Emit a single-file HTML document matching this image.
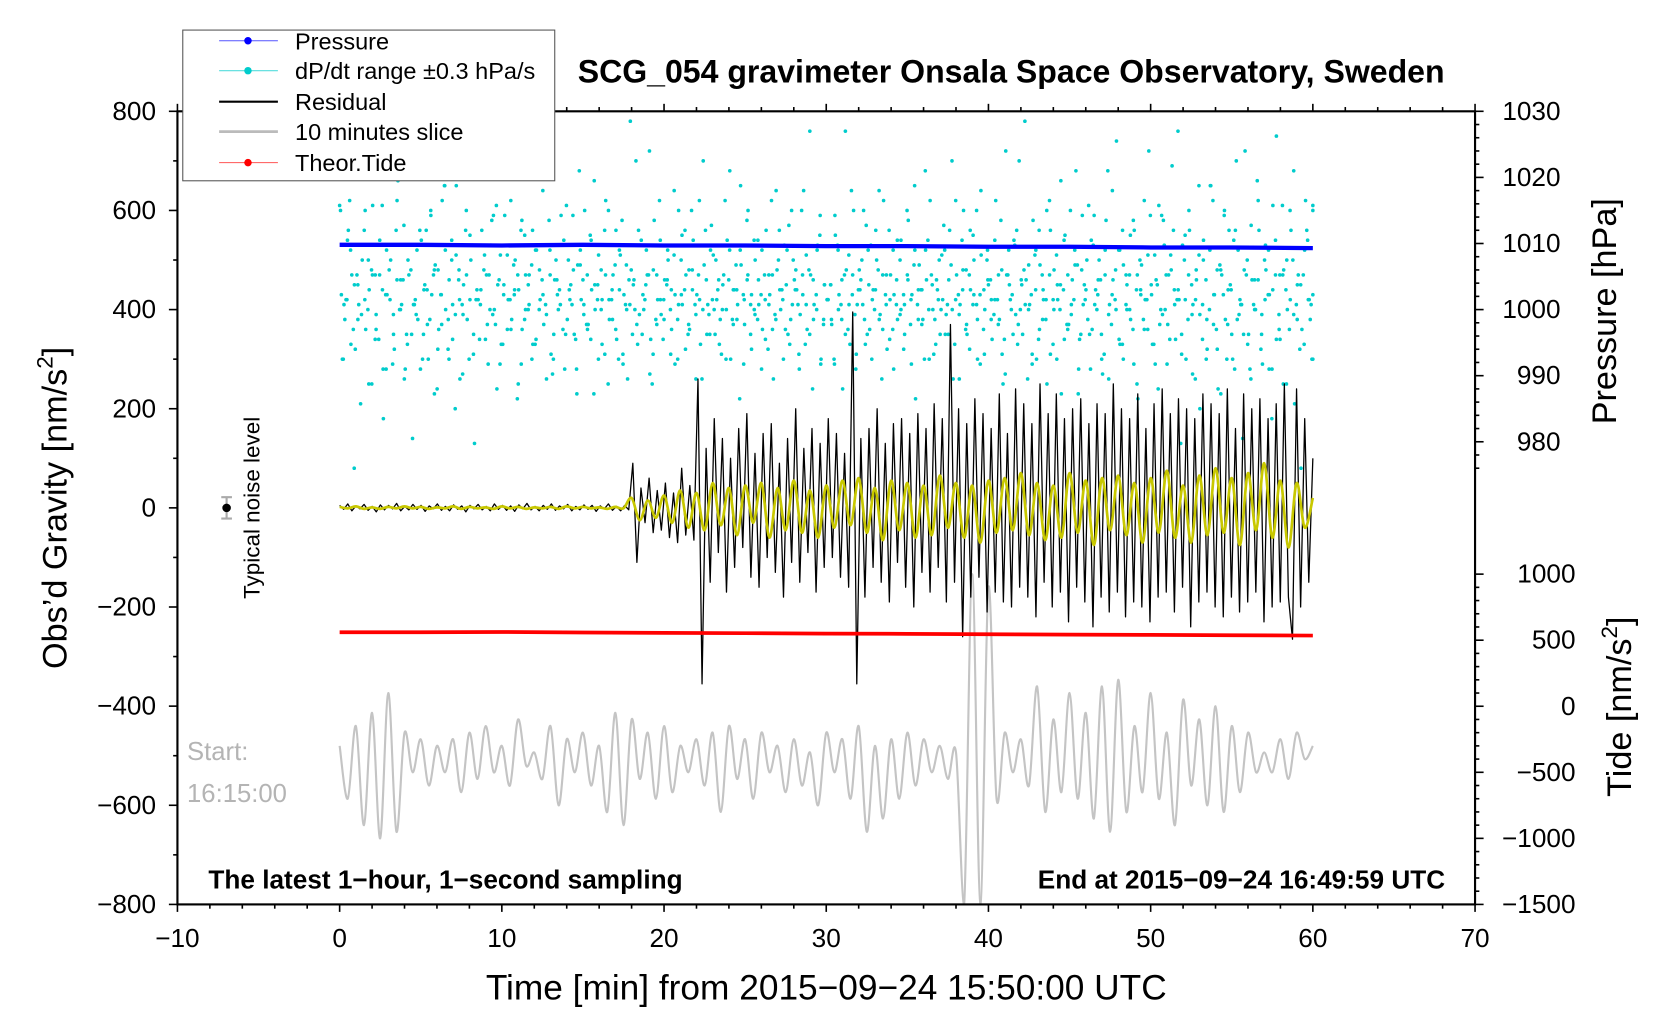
<!DOCTYPE html>
<html><head><meta charset="utf-8"><style>
html,body{margin:0;padding:0;background:#fff;width:1676px;height:1020px;overflow:hidden}
svg{display:block;font-family:"Liberation Sans",sans-serif}
</style></head><body>
<svg id="chart" width="1676" height="1020" viewBox="0 0 1568 952" xmlns="http://www.w3.org/2000/svg">
<g id="marks"></g>
<g id="axes"></g>
<text x="946" y="76" text-anchor="middle" font-size="30" font-weight="bold">SCG_054 gravimeter Onsala Space Observatory, Sweden</text>
<text transform="translate(62,474) rotate(-90)" text-anchor="middle" font-size="32">Obs’d Gravity [nm/s<tspan font-size="21" dy="-13">2</tspan><tspan dy="13">]</tspan></text>
<text transform="translate(1512,290) rotate(-90)" text-anchor="middle" font-size="32">Pressure [hPa]</text>
<text transform="translate(1526,660) rotate(-90)" text-anchor="middle" font-size="32">Tide [nm/s<tspan font-size="21" dy="-13">2</tspan><tspan dy="13">]</tspan></text>
<text x="773" y="934" text-anchor="middle" font-size="33">Time [min] from 2015−09−24 15:50:00 UTC</text>
<text x="195" y="830" font-size="24.5" font-weight="bold">The latest 1−hour, 1−second sampling</text>
<text x="1352" y="830" text-anchor="end" font-size="24.5" font-weight="bold">End at 2015−09−24 16:49:59 UTC</text>
<text x="175" y="710" font-size="24" fill="#b4b4b4">Start:</text>
<text x="175" y="749" font-size="24" fill="#b4b4b4">16:15:00</text>
<text transform="translate(243,474) rotate(-90)" text-anchor="middle" font-size="21">Typical noise level</text>
<g>
<line x1="212" y1="464" x2="212" y2="484" stroke="#aaa" stroke-width="2"/><line x1="207" y1="464" x2="217" y2="464" stroke="#aaa" stroke-width="2"/><line x1="207" y1="484" x2="217" y2="484" stroke="#aaa" stroke-width="2"/><circle cx="212" cy="474" r="4" fill="#000"/></g>
<g>
<rect x="171" y="27" width="348" height="141" fill="#fff" stroke="#555" stroke-width="1"/>
<g><line x1="205" y1="37" x2="260" y2="37" stroke="#55f" stroke-width="1"/><circle cx="232" cy="37" r="3.5" fill="#00f"/><text x="276" y="45" font-size="22">Pressure</text></g>
<g><line x1="205" y1="65" x2="260" y2="65" stroke="#5dd" stroke-width="1"/><circle cx="232" cy="65" r="3.5" fill="#0cc"/><text x="276" y="73" font-size="22">dP/dt range ±0.3 hPa/s</text></g>
<g><line x1="205" y1="94" x2="260" y2="94" stroke="#000" stroke-width="2"/><text x="276" y="102" font-size="22">Residual</text></g>
<g><line x1="205" y1="122" x2="260" y2="122" stroke="#bbb" stroke-width="2.5"/><text x="276" y="130" font-size="22">10 minutes slice</text></g>
<g><line x1="205" y1="151" x2="260" y2="151" stroke="#f55" stroke-width="1"/><circle cx="232" cy="151" r="3.5" fill="#f00"/><text x="276" y="159" font-size="22">Theor.Tide</text></g>
</g>
</svg>
<script>
const xTicks=[-10,0,10,20,30,40,50,60,70];
const gTicks=[800,600,400,200,0,-200,-400,-600,-800];
const pTicks=[1030,1020,1010,1000,990,980];
const tTicks=[1000,500,0,-500,-1000,-1500];
const pressure=[1009.8,1009.8,1009.7,1009.8,1009.7,1009.7,1009.6,1009.6,1009.5,1009.5,1009.4,1009.4,1009.3];
const tide=[560,560,562,558,555,553,550,548,545,542,540,537,535];
const residual=[5,-3,8,-6,4,-2,7,-5,3,-8,6,-4,5,-2,9,-6,3,-4,7,-3,5,-7,4,-2,8,-5,3,-6,6,-3,4,-8,5,-2,7,-4,3,-6,8,-3,5,-5,4,-7,6,-2,9,-4,3,-6,5,-3,8,-5,4,-2,7,-6,3,-4,6,-3,5,-7,4,-2,8,-5,3,-6,5,-4,
90,-110,40,-30,60,-50,35,-45,50,-60,30,-70,80,-55,45,-65,
260,-355,120,-150,180,-90,140,-170,100,-120,160,-80,190,-140,110,-160,150,-100,170,-130,90,-180,140,-110,200,-150,120,-90,160,-170,130,-120,180,-100,150,-140,110,-160,
395,-355,140,-180,160,-120,200,-150,130,-190,170,-110,180,-160,150,-200,190,-130,160,-170,210,-120,180,-190,370,
-150,200,-260,170,-180,220,-140,190,-210,160,-170,230,-190,150,-200,240,-160,210,-180,170,-220,250,-150,190,-200,230,-170,180,-230,200,-160,220,-190,170,-240,210,-180,190,-210,250,-170,200,-220,180,-190,230,-200,160,-230,210,-180,240,-170,190,-210,220,-160,200,-240,180,-190,230,-170,210,-200,190,-220,240,-180,160,-210,230,-190,200,-170,220,-230,180,-200,210,-190,250,-180,
-265,240,-200,180,-150,100];
const smoothed=[2,-1,3,-2,1,-2,2,-1,3,-1,2,-2,1,-1,3,-2,2,-1,1,-2,3,-1,2,-2,1,-1,2,-2,3,-1,2,-1,1,-2,2,-1,
20,-25,15,-20,25,-30,35,-40,30,-45,50,-35,40,-55,45,-30,50,-60,40,-45,55,-50,35,-60,45,-40,55,-35,60,-50,40,-65,55,-45,50,-60,45,-55,65,-40,50,-60,45,-70,55,-50,60,-45,70,-55,50,-65,45,-60,70,-50,55,-75,60,-45,65,-55,50,-70,60,-50,75,-60,45,-70,65,-55,80,-50,60,-75,70,-45,90,-60,55,-80,50,-40,20];
const slice=[-300,-700,-150,-900,-50,-1000,100,-950,-200,-500,-250,-600,-300,-500,-250,-650,-200,-550,-150,-500,-300,-600,-100,-450,-350,-550,-150,-750,-250,-500,-200,-600,-300,-800,-50,-900,-100,-550,-200,-700,-150,-650,-300,-500,-250,-600,-200,-800,-150,-550,-250,-700,-200,-500,-300,-650,-250,-600,-350,-750,-200,-500,-250,-700,-150,-950,-300,-850,-250,-700,-200,-600,-250,-500,-300,-550,-350,-1500,1000,-1500,900,-700,-200,-500,-250,-600,150,-800,-100,-650,100,-700,-50,-850,150,-950,200,-800,-150,-650,100,-700,-200,-900,50,-600,-100,-750,0,-800,-150,-650,-200,-500,-350,-500,-250,-550,-200,-400,-300];
const dpdt=[610,300,420,520,80,450,390,600,250,470,360,540,180,430,500,320,660,410,280,470,140,390,560,350,440,600,230,480,370,520,300,410,650,260,450,380,500,130,420,560,340,470,390,610,290,430,510,360,440,250,580,400,470,330,520,420,370,680,310,460,400,530,350,440,590,280,490,410,360,540,450,300,420,620,380,470,340,510,430,260,480,400,560,350,450,720,310,470,420,380,520,440,290,600,410,470,360,540,430,330,490,410,570,350,460,400,300,520,440,380,650,420,470,320,500,410,360,560,430,260,480,400,530,350,600,440,310,470,410,760,380,520,290,450,420,370,550,430,240,480,330,600,410,460,380,520,300,440,640,360,470,420,280,540,400,350,580,430,220,490,380,460,620,310,440,400,520,350,700,420,260,480,370,560,430,300,510,400,450,340,620,380,250,470,420,540,330,460,780,400,290,520,360,440,600,310,480,420,230,550,370,460,680,340,410,500,280,590,430,350,470,260,640,400,520,300,450,380,560,220,490,420,720,330,460,370,580,290,510,440,760,350,420,600,270,480,390,540,320,650,430,240,470,380,560,300,700,420,350,500,260,460,620,390,530,280,440,750,340,480,400,560,210,470,360,620,420,300];
const dpdt2=[430,380,560,470,320,410,500,360,440,610,390,470,280,520,420,350,460,400,570,330,480,410,380,540,450,300,430,490,360,620,400,460,340,510,420,390,470,550,310,440,410,480,370,530,400,450,330,590,420,380,500,440,360,470,410,560,340,480,430,390,520,300,460,410,540,380,450,350,490,420,600,370,440,400,510,330,470,420,380,560,440,310,490,410,450,370,530,400,470,340,580,420,390,460,500,360,430,410,550,320,480,440,390,620,400,460,350,510,420,380,470,540,300,440,410,490,370,600,430,390,460,520,340,410,470,380,560,420,450,330,500,440,390,640,360,470,410,530,300,450,420,380,590,400,460,350,510,430,280,480,410,570,360,440,500,390,620,320,470,430,380,540,410,460,290,520,440,370,680,400,450,330,500,420,390,560,260,470,410,600,350,440,500,380,640,310,460,420,540,370,480,270,520,430,390,700,350,460,410,580,300,490,420,250,560,400,450,660,340,470,390,520,230,480,420,610,360,440,500,270,580,410,460,740,330,490,400,550,290,470,430,620,360,450,510,240,590,400,470,690,340,420,530,300,560,410,460,200,500,380,650,430,320,480,590,370,440,280,520,410,720,350,460,400,560,290,480,430,610,340,470,250,500,420,680,380,450,330,540,410,600];
const X0=166,X1=1380,YT=103,YB=845;
const sx=m=>X0+(m+10)*(X1-X0)/80;
const sg=v=>YT+(800-v)*(YB-YT)/1600;
const sp=v=>YT+(1030-v)*(YB-YT)/120;
const st=v=>YB-(v+1500)*(YB-536)/2500;
const NS='http://www.w3.org/2000/svg';
const marks=document.getElementById('marks'),axes=document.getElementById('axes');
function mk(tag,attrs,parent){const e=document.createElementNS(NS,tag);for(const k in attrs)e.setAttribute(k,attrs[k]);parent.appendChild(e);return e;}
function clipY(y){return Math.max(YT,Math.min(YB,y));}
const dg=mk('g',{},marks);


function dots(arr,off){arr.forEach((v,i)=>{const c=mk('circle',{cx:sx(Math.min(60,(i+off)*60/(arr.length-1))),cy:sg(v),r:1.7,fill:'#0cc'},dg);

});}
dots(dpdt,0);dots(dpdt2,0.5);dots(dpdt2.slice().reverse(),0.25);dots(dpdt.slice().reverse(),0.75);
function line(arr,scale,name,stroke,w,smooth){
 const n=arr.length;const pts=arr.map((v,i)=>[sx(i*60/(n-1)),clipY(scale(v))]);
 let d='M'+pts[0][0]+','+pts[0][1];
 if(smooth){for(let i=0;i<n-1;i++){const p0=pts[Math.max(0,i-1)],p1=pts[i],p2=pts[i+1],p3=pts[Math.min(n-1,i+2)];
  const c1=[p1[0]+(p2[0]-p0[0])/6,clipY(p1[1]+(p2[1]-p0[1])/6)],c2=[p2[0]-(p3[0]-p1[0])/6,clipY(p2[1]-(p3[1]-p1[1])/6)];
  d+=' C'+c1+' '+c2+' '+p2;}}
 else pts.slice(1).forEach(p=>d+=' L'+p[0]+','+p[1]);
 const e=mk('path',{d:d,fill:'none',stroke:stroke,'stroke-width':w,'stroke-linejoin':'round'},marks);
 
 
 return e;}
line(slice,st,'slice-line','#c4c4c4',2,true);
line(residual,sg,'residual-line','#000',1.2,false);
line(smoothed,sg,'smoothed-residual-line','#c8c800',2.5,true);
line(pressure,sp,'pressure-line','#00f',4,false);
line(tide,st,'tide-line','#f00',3.5,false);
const fr=mk('rect',{x:X0,y:YT,width:X1-X0,height:YB-YT,fill:'none',stroke:'#000','stroke-width':2},axes);


function tx(x,y,s,anchor,name){const t=mk('text',{x:x,y:y,'text-anchor':anchor,'font-size':24.5},axes);t.textContent=s;
 
 }
const minus=s=>String(s).replace('-','−');
for(let m=-10;m<=70;m+=2){const big=m%10===0;
 mk('line',{x1:sx(m),x2:sx(m),y1:YB,y2:YB+(big?7:4),stroke:'#000','stroke-width':1.5},axes);
 mk('line',{x1:sx(m),x2:sx(m),y1:YT,y2:YT-(big?7:4),stroke:'#000','stroke-width':1.5},axes);}
xTicks.forEach(m=>tx(sx(m),YB+40,minus(m),'middle','x-tick-label'));
for(let v=-800;v<=800;v+=100){const big=v%200===0;mk('line',{x1:X0,x2:X0-(big?8:4),y1:sg(v),y2:sg(v),stroke:'#000','stroke-width':1.5},axes);}
gTicks.forEach(v=>tx(X0-20,sg(v)+8,minus(v),'end','left-tick-label'));
for(let v=976;v<=1030;v+=2){const big=v%10===0;mk('line',{x1:X1,x2:X1+(big?8:4),y1:sp(v),y2:sp(v),stroke:'#000','stroke-width':1.5},axes);}
pTicks.forEach(v=>tx(X1+80,sp(v)+8,v,'end','pressure-tick-label'));
for(let v=-1500;v<=1000;v+=100){const big=v%500===0;mk('line',{x1:X1,x2:X1+(big?8:4),y1:st(v),y2:st(v),stroke:'#000','stroke-width':1.5},axes);}
tTicks.forEach(v=>tx(X1+94,st(v)+8,minus(v),'end','tide-tick-label'));
</script>
</body></html>
